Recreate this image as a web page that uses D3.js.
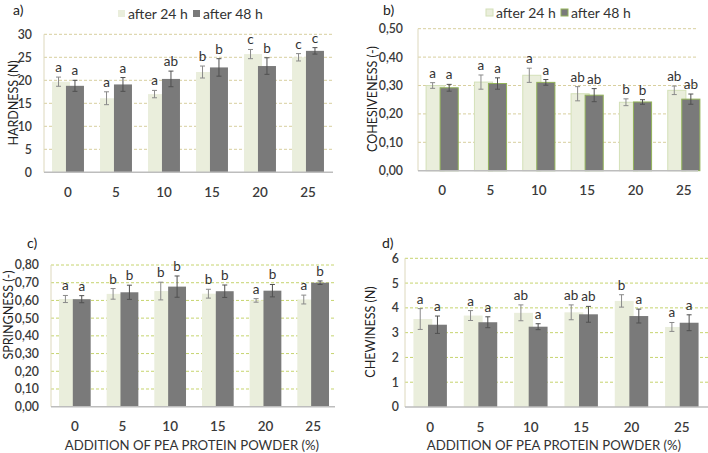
<!DOCTYPE html>
<html><head><meta charset="utf-8">
<script src="https://cdn.jsdelivr.net/npm/d3@7"></script>
<style>body{margin:0;background:#fff}svg{display:block;font-family:Lato,"Open Sans",sans-serif}</style>
</head><body>
<svg id="c" width="708" height="453"></svg>
<script>
const categories = ["0","5","10","15","20","25"];
const seriesNames = ["after 24 h","after 48 h"];

const hardness24 = [19.7,16.1,17.0,21.8,25.7,25.0];
const hardness48 = [18.8,19.1,20.3,22.8,23.1,26.4];
const hardnessSd24 = [1.0,1.4,0.8,1.3,1.0,0.8];
const hardnessSd48 = [1.2,1.5,1.7,1.9,1.8,0.7];
const hardnessLetters24 = ["a","a","a","b","c","c"];
const hardnessLetters48 = ["a","a","ab","b","b","c"];
const hardnessTicks = [0,5,10,15,20,25,30];

const cohes24 = [0.300,0.312,0.336,0.271,0.241,0.283];
const cohes48 = [0.292,0.307,0.311,0.266,0.242,0.252];
const cohesSd24 = [0.010,0.025,0.025,0.025,0.012,0.015];
const cohesSd48 = [0.012,0.020,0.010,0.023,0.008,0.018];
const cohesLetters24 = ["a","a","a","ab","b","ab"];
const cohesLetters48 = ["a","a","a","ab","b","ab"];
const cohesTicks = [0,0.1,0.2,0.3,0.4,0.5];

const spring24 = [0.608,0.637,0.653,0.638,0.600,0.605];
const spring48 = [0.607,0.646,0.678,0.652,0.655,0.700];
const springSd24 = [0.020,0.030,0.050,0.025,0.010,0.025];
const springSd48 = [0.020,0.040,0.060,0.035,0.035,0.010];
const springLetters24 = ["a","b","b","b","a","a"];
const springLetters48 = ["a","b","b","b","b","b"];
const springTicks = [0,0.1,0.2,0.3,0.4,0.5,0.6,0.7,0.8];

const chew24 = [3.55,3.69,3.80,3.82,4.28,3.23];
const chew48 = [3.32,3.42,3.24,3.74,3.67,3.40];
const chewSd24 = [0.42,0.20,0.32,0.30,0.25,0.18];
const chewSd48 = [0.35,0.22,0.12,0.32,0.28,0.32];
const chewLetters24 = ["a","a","ab","ab","b","a"];
const chewLetters48 = ["a","a","a","ab","a","a"];
const chewTicks = [0,1,2,3,4,5,6];

const xTitle = "ADDITION OF PEA PROTEIN POWDER (%)";

const comma2 = d => d3.format(".2f")(d).replace(".", ",");
const plain = d => String(d);

const panels = [
  {tag:"a)", title:"HARDNESS (N)", v:[hardness24,hardness48], e:[hardnessSd24,hardnessSd48], l:[hardnessLetters24,hardnessLetters48],
   ticks:hardnessTicks, fmt:plain, left:44, right:332, gridEnd:333, top:34.3, bottom:172.3, tickGap:12,
   tagX:13, tagY:15, titleX:13, titleY:103, grid:"#d8cf9e", legend:{x:118,y:14}, xTitle:false, outline:false},
  {tag:"b)", title:"COHESIVENESS (-)", v:[cohes24,cohes48], e:[cohesSd24,cohesSd48], l:[cohesLetters24,cohesLetters48],
   ticks:cohesTicks, fmt:comma2, left:418, right:708, gridEnd:698, top:28.7, bottom:170.7, tickGap:15,
   tagX:383, tagY:15, titleX:372, titleY:99, grid:"#d8cf9e", legend:{x:486,y:13}, xTitle:false, outline:true},
  {tag:"c)", title:"SPRINGNESS (-)", v:[spring24,spring48], e:[springSd24,springSd48], l:[springLetters24,springLetters48],
   ticks:springTicks, fmt:comma2, left:51, right:337, gridEnd:335, top:265, bottom:406.7, tickGap:12,
   tagX:27, tagY:248, titleX:8, titleY:315, grid:"#c6d46e", legend:null, xTitle:true, outline:false},
  {tag:"d)", title:"CHEWINESS (N)", v:[chew24,chew48], e:[chewSd24,chewSd48], l:[chewLetters24,chewLetters48],
   ticks:chewTicks, fmt:plain, left:405, right:707, gridEnd:708, top:258.3, bottom:407, tickGap:6,
   tagX:382, tagY:248, titleX:370, titleY:332, grid:"#c6d46e", legend:null, xTitle:true, outline:false}
];

const svg = d3.select("#c");
const lightFill = "#eaeedc", darkFill = "#7a7a7a";
const textCol = "#3a3a3a";

panels.forEach(p => {
  const g = svg.append("g");
  const x = d3.scaleBand().domain(categories).range([p.left, p.right]).padding(0);
  const y = d3.scaleLinear().domain([0, d3.max(p.ticks)]).range([p.bottom, p.top]);
  const step = x.step();
  const bw = step * 0.375, off = step * 0.29;
  const groupStart = c => x(c) + (step - (off + bw)) / 2;

  g.append("g").selectAll("line").data(p.ticks.filter(t => t > 0)).join("line")
    .attr("x1", p.left).attr("x2", p.gridEnd)
    .attr("y1", d => y(d)).attr("y2", d => y(d))
    .attr("stroke", p.grid).attr("stroke-width", 1).attr("stroke-dasharray", "3,2");

  g.append("line").attr("x1", p.left).attr("x2", p.left).attr("y1", y(d3.max(p.ticks))).attr("y2", p.bottom)
    .attr("stroke", "#ddd8bd").attr("stroke-width", 1);

  const yAxis = d3.axisLeft(y).tickValues(p.ticks).tickFormat(p.fmt).tickSize(0).tickPadding(p.tickGap);
  const ya = g.append("g").attr("transform", `translate(${p.left},0)`).call(yAxis);
  ya.select(".domain").remove();
  ya.selectAll("text").attr("font-size", 12.3).attr("font-weight", 600).attr("fill", textCol).attr("font-family", "Lato, sans-serif");

  [0, 1].forEach(s => {
    g.append("g").selectAll("rect").data(categories).join("rect")
      .attr("x", c => groupStart(c) + s * off)
      .attr("width", bw)
      .attr("y", (c, i) => y(p.v[s][i]))
      .attr("height", (c, i) => p.bottom - y(p.v[s][i]))
      .attr("fill", s === 0 ? lightFill : darkFill)
      .attr("stroke", p.outline ? (s === 0 ? "#d3e0b8" : "#93b35a") : "none")
      .attr("stroke-width", p.outline ? 1 : 0);
  });

  [0, 1].forEach(s => {
    const col = s === 0 ? "#8a8a8a" : "#505050";
    const eg = g.append("g");
    categories.forEach((c, i) => {
      const cx = groupStart(c) + s * off + bw / 2 + (s === 0 ? -bw * 0.14 : 0);
      const y1 = y(p.v[s][i] + p.e[s][i]), y2 = y(p.v[s][i] - p.e[s][i]);
      eg.append("line").attr("x1", cx).attr("x2", cx).attr("y1", y1).attr("y2", y2).attr("stroke", col).attr("stroke-width", 1);
      eg.append("line").attr("x1", cx - 2.5).attr("x2", cx + 2.5).attr("y1", y1).attr("y2", y1).attr("stroke", col).attr("stroke-width", 1);
      eg.append("line").attr("x1", cx - 2.5).attr("x2", cx + 2.5).attr("y1", y2).attr("y2", y2).attr("stroke", col).attr("stroke-width", 1);
    });
  });

  [0, 1].forEach(s => {
    g.append("g").selectAll("text").data(categories).join("text")
      .attr("x", c => groupStart(c) + s * off + bw / 2 + (s === 0 ? -bw * 0.14 : 0))
      .attr("y", (c, i) => y(p.v[s][i] + p.e[s][i]) - 5)
      .attr("text-anchor", "middle").attr("font-size", 13.5).attr("fill", "#333333")
      .text((c, i) => p.l[s][i]);
  });

  g.append("line").attr("x1", p.left).attr("x2", p.gridEnd).attr("y1", p.bottom).attr("y2", p.bottom)
    .attr("stroke", "#bdbdbd").attr("stroke-width", 1.5);

  const xAxis = d3.axisBottom(x).tickSize(0).tickPadding(15);
  const xa = g.append("g").attr("transform", `translate(0,${p.bottom})`).call(xAxis);
  xa.select(".domain").remove();
  xa.selectAll("text").attr("font-size", 13.5).attr("font-weight", 600).attr("fill", textCol).attr("font-family", "Lato, sans-serif");

  g.append("text").attr("transform", `translate(${p.titleX + 4.5},${p.titleY}) rotate(-90)`)
    .attr("text-anchor", "middle").attr("font-size", 12.5).attr("fill", "#222").text(p.title);

  g.append("text").attr("x", p.tagX).attr("y", p.tagY).attr("font-size", 14).attr("fill", "#222").text(p.tag);

  if (p.xTitle) {
    g.append("text").attr("x", (p.left + p.right) / 2 - 2).attr("y", 450)
      .attr("text-anchor", "middle").attr("font-size", 13.2).attr("fill", "#333").text(xTitle);
  }

  if (p.legend) {
    const lg = g.append("g").attr("transform", `translate(${p.legend.x},${p.legend.y})`);
    seriesNames.forEach((n, i) => {
      const ox = i * 75;
      lg.append("rect").attr("x", ox).attr("y", -4).attr("width", 7).attr("height", 7)
        .attr("fill", i === 0 ? lightFill : darkFill)
        .attr("stroke", p.outline ? (i === 0 ? "#d3e0b8" : "#93b35a") : "none");
      lg.append("text").attr("x", ox + 10).attr("y", 5).attr("font-size", 14).attr("fill", "#333").text(n);
    });
  }
});
</script>
</body></html>
